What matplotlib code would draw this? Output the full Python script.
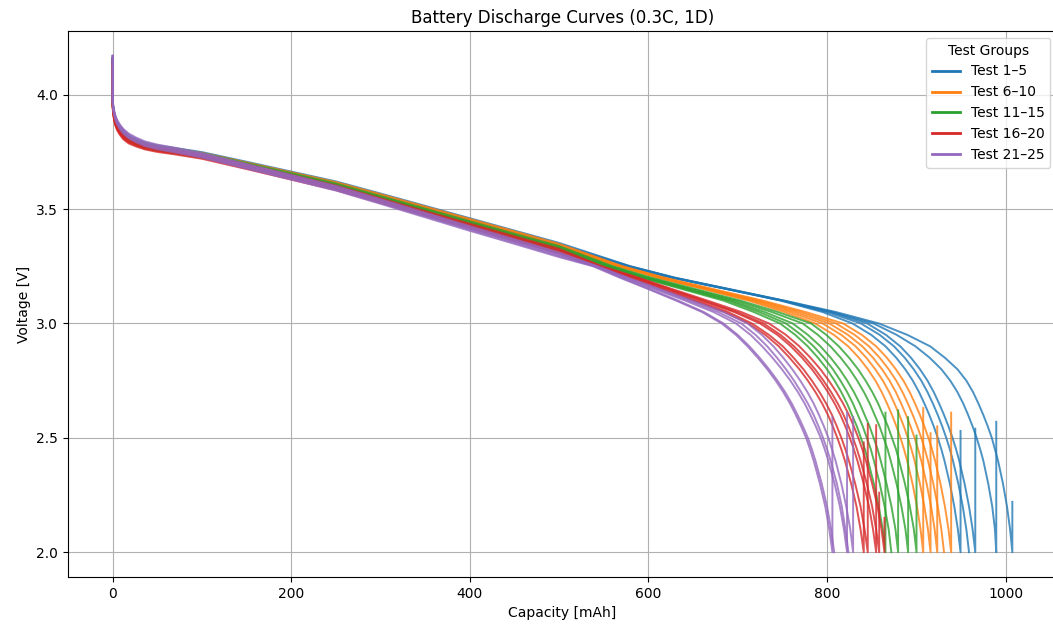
import matplotlib
matplotlib.use("Agg")
import matplotlib.pyplot as plt
from matplotlib.lines import Line2D

# ---- data -------------------------------------------------------------
group_labels = ["Test 1\u20135", "Test 6\u201310", "Test 11\u201315", "Test 16\u201320", "Test 21\u201325"]
group_colors = ["#1f77b4", "#ff7f0e", "#2ca02c", "#d62728", "#9467bd"]

# Plateau: capacity [mAh] and group voltage [V] (first point is the open-circuit peak)
cap_plateau = [0, 0, 0.5, 1.5, 3, 5, 8, 12, 18, 26, 36, 50, 70, 100, 150, 200, 250, 300, 350, 400, 450, 500]
plateau_1_5 = [4.16, 3.965, 3.94, 3.915, 3.89, 3.87, 3.85, 3.83, 3.81, 3.795, 3.78, 3.768, 3.757, 3.739, 3.697, 3.654, 3.611, 3.558, 3.504, 3.450, 3.396, 3.342]
plateau_6_10 = [4.15, 3.955, 3.93, 3.905, 3.88, 3.86, 3.84, 3.822, 3.803, 3.789, 3.775, 3.764, 3.753, 3.736, 3.694, 3.651, 3.608, 3.555, 3.501, 3.447, 3.393, 3.338]
plateau_11_15 = [4.16, 3.965, 3.94, 3.915, 3.89, 3.868, 3.848, 3.828, 3.808, 3.793, 3.779, 3.767, 3.755, 3.735, 3.691, 3.647, 3.602, 3.547, 3.492, 3.437, 3.382, 3.328]
plateau_16_20 = [4.15, 3.955, 3.93, 3.90, 3.875, 3.855, 3.835, 3.815, 3.797, 3.784, 3.771, 3.760, 3.749, 3.730, 3.685, 3.639, 3.593, 3.537, 3.481, 3.426, 3.371, 3.316]
plateau_21_25 = [4.17, 3.97, 3.948, 3.924, 3.90, 3.88, 3.86, 3.84, 3.82, 3.803, 3.786, 3.772, 3.758, 3.735, 3.687, 3.639, 3.591, 3.533, 3.474, 3.415, 3.358, 3.300]

# Per-test voltage offset on the plateau [V]
test_offset = [-0.01, -0.005, 0.0, 0.005, 0.01]

# End of discharge: capacity [mAh] reached at each voltage level
v_knee = [3.25, 3.20, 3.15, 3.10, 3.05, 3.00, 2.95, 2.90, 2.85, 2.80, 2.75,
          2.70, 2.65, 2.60, 2.55, 2.50, 2.45, 2.40, 2.30, 2.20, 2.10, 2.00]
knee_1_5 = [
    [575, 625, 688, 748, 795, 828.5, 849.5, 865.5, 877.5, 887.5, 896, 903, 909, 914.5, 919.5, 924, 928, 931.5, 937.5, 942.5, 946.5, 949.5],
    [577, 627, 688, 749, 800, 838, 859, 875, 887, 897, 905.5, 912.5, 918.5, 924, 929, 933.5, 937.5, 941, 947, 952, 956, 959],
    [578, 628, 689, 750, 804, 845, 866, 882, 894, 904, 912.5, 919.5, 925.5, 931, 936, 940.5, 944.5, 948, 954, 959, 963, 966],
    [579, 629, 690, 751, 806, 852, 878, 899, 915, 928, 938, 946, 952.5, 958, 963, 967.5, 971.5, 975, 980.5, 985, 988, 989.5],
    [580, 630, 691, 752, 810, 858, 890, 915.5, 932, 946, 956, 963.5, 969.5, 975, 980, 984.5, 988, 991.5, 997, 1001.5, 1005, 1007.5],
]
knee_6_10 = [
    [566, 610, 662, 712, 752, 786.7, 807.7, 823.7, 835.7, 845.7, 854.2, 861.2, 867.2, 872.7, 877.7, 882.2, 886.2, 889.7, 895.7, 900.7, 904.7, 907.7],
    [567, 612, 664, 716, 758, 795, 816, 832, 844, 854, 862.5, 869.5, 875.5, 881, 886, 890.5, 894.5, 898, 904, 909, 913, 915.9],
    [568, 614, 667, 720, 764, 802.5, 823.5, 839.5, 851.5, 861.5, 870, 877, 883, 888.5, 893.5, 898, 902, 905.5, 911.5, 916.5, 920.5, 923.4],
    [570, 616, 670, 724, 770, 810, 831, 847, 859, 869, 877.5, 884.5, 890.5, 896, 901, 905.5, 909.5, 913, 919, 924, 928, 931],
    [571, 618, 673, 728, 776, 818, 839, 855, 867, 877, 885.5, 892.5, 898.5, 904, 909, 913.5, 917.5, 921, 927, 932, 936, 939],
]
knee_11_15 = [
    [552, 592, 638, 684, 718, 747.4, 764.4, 778.4, 789.9, 799.9, 808.4, 815.9, 822.4, 827.9, 833.4, 837.9, 842.4, 845.9, 852.4, 857.9, 862.4, 865.4],
    [554, 594, 642, 689, 724, 754, 771, 785, 796.5, 806.5, 815, 822.5, 829, 834.5, 840, 844.5, 849, 852.5, 859, 864.5, 869, 872],
    [556, 597, 645, 693, 730, 761.6, 778.6, 792.6, 804.1, 814.1, 822.6, 830.1, 836.6, 842.1, 847.6, 852.1, 856.6, 860.1, 866.6, 872.1, 876.6, 879.6],
    [558, 600, 649, 698, 738, 772.8, 789.8, 803.8, 815.3, 825.3, 833.8, 841.3, 847.8, 853.3, 858.8, 863.3, 867.8, 871.3, 877.8, 883.3, 887.8, 890.8],
    [560, 603, 653, 703, 745, 782.2, 799.2, 813.2, 824.7, 834.7, 843.2, 850.7, 857.2, 862.7, 868.2, 872.7, 877.2, 880.7, 887.2, 892.7, 897.2, 900.2],
]
knee_16_20 = [
    [542, 580, 615, 650, 685, 712, 731, 746, 758, 769, 778.5, 787, 794.5, 801, 806.5, 811.5, 816, 820, 827, 833, 837.5, 841.1],
    [543, 582, 618, 654, 689, 716, 735, 750.5, 762.5, 773.5, 783, 791.5, 799, 805.5, 811, 816, 820.5, 824.5, 831.5, 837.5, 842, 845.6],
    [545, 585, 622, 659, 696, 725, 744.5, 759.5, 772, 783, 792.5, 801, 808.5, 815, 820.5, 825.5, 830, 834, 841, 847, 851.5, 855],
    [546, 587, 624, 662, 699, 729, 748, 763, 775.5, 786.5, 796, 804.5, 812, 818.5, 824, 829, 833.5, 837.5, 844.5, 850.5, 855, 858.4],
    [548, 589, 627, 666, 704, 735, 754, 769, 781.5, 792.5, 802, 810.5, 818, 824.5, 830, 835, 839.5, 843.5, 850.5, 856.5, 861, 864.3],
]
knee_21_25 = [
    [538, 568, 600, 631, 660, 682, 698, 711, 722.5, 733, 742.5, 751, 758.5, 765, 771, 776.5, 781, 785, 792, 798, 802.5, 806],
    [540, 570, 602, 633, 662, 684, 700, 713, 724.5, 735, 744.5, 753, 760.5, 767, 773, 778.5, 783, 787, 794, 800, 804.5, 808],
    [541, 573, 607, 641, 673, 698, 714.4, 727.4, 738.9, 749.4, 758.9, 767.4, 774.9, 781.4, 787.4, 792.9, 797.4, 801.4, 808.4, 814.4, 818.9, 822.4],
    [542, 575, 610, 645, 678, 704, 720, 733, 744, 754, 763, 771, 778.5, 785, 790.5, 795.5, 800, 804, 811, 816.5, 820.5, 824],
    [543, 577, 613, 649, 684, 711, 727, 740, 751, 761, 770, 778, 785, 791, 796.5, 801.5, 805.5, 809.5, 816, 821.5, 826, 829.2],
]

# Voltage rebound after cut-off [V] (None: no rebound recorded)
rebound_1_5 = [2.53, None, 2.54, 2.57, 2.22]
rebound_6_10 = [2.63, 2.52, 2.55, None, 2.61]
rebound_11_15 = [2.61, None, 2.62, 2.59, 2.51]
rebound_16_20 = [2.48, 2.56, 2.555, 2.26, 2.15]
rebound_21_25 = [2.59, None, 2.61, None, 2.59]

plateaus = [plateau_1_5, plateau_6_10, plateau_11_15, plateau_16_20, plateau_21_25]
knees = [knee_1_5, knee_6_10, knee_11_15, knee_16_20, knee_21_25]
rebounds = [rebound_1_5, rebound_6_10, rebound_11_15, rebound_16_20, rebound_21_25]

# ---- figure -----------------------------------------------------------
fig = plt.figure(figsize=(10.53, 6.28), dpi=100)
ax = fig.add_axes([0.0643, 0.0812, 0.9398, 0.8694])

for plateau, knee, rebound, color in zip(plateaus, knees, rebounds, group_colors):
    for k in range(5):
        caps = list(cap_plateau)
        volts = [plateau[0]] + [v + test_offset[k] for v in plateau[1:]]
        caps += knee[k]
        volts += v_knee
        if rebound[k] is not None:
            caps.append(knee[k][-1])
            volts.append(rebound[k])
        ax.plot(caps, volts, color=color, lw=1.4, alpha=0.8)

ax.set_title("Battery Discharge Curves (0.3C, 1D)", fontsize=12)
ax.set_xlabel("Capacity [mAh]")
ax.set_ylabel("Voltage [V]")
ax.grid(True)

handles = [Line2D([0], [0], color=c, lw=2) for c in group_colors]
ax.legend(handles, group_labels, title="Test Groups", loc="upper right")

fig.savefig("out.png", dpi=100)
